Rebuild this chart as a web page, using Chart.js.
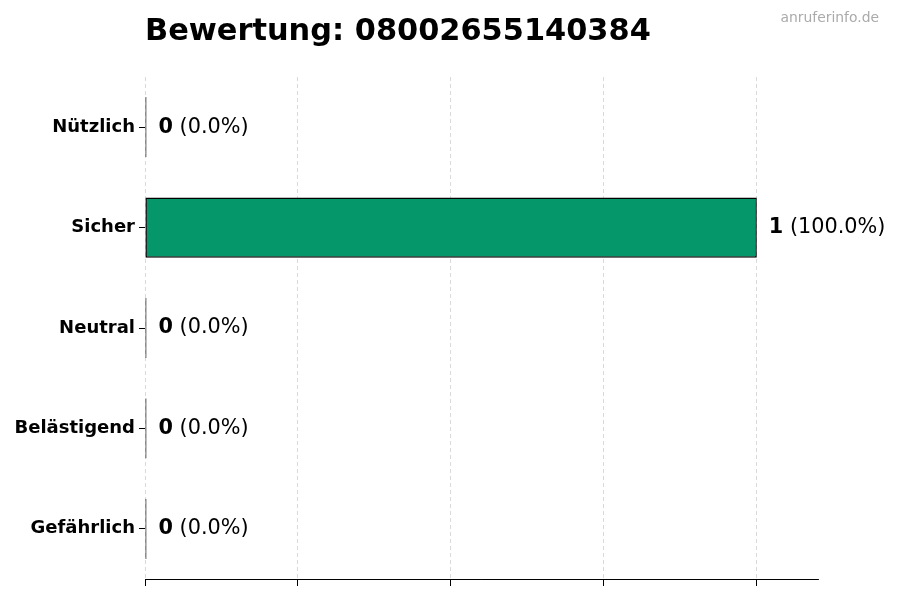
<!DOCTYPE html>
<html><head><meta charset="utf-8">
<script src="https://cdn.jsdelivr.net/npm/chart.js@4.4.0/dist/chart.umd.min.js"></script>
<style>html,body{margin:0;padding:0;background:#fff;}canvas{display:block;}</style>
</head><body>
<canvas id="c" width="900" height="600"></canvas>
<script>
const titleText = 'Bewertung: 08002655140384';
const watermark = 'anruferinfo.de';
const categories = ['Nützlich', 'Sicher', 'Neutral', 'Belästigend', 'Gefährlich'];
const counts = [0, 1, 0, 0, 0];
const barColor = '#05976a';
const total = counts.reduce((a, b) => a + b, 0);

const FONT = "'DejaVu Sans', sans-serif";

const overlay = {
  id: 'overlay',
  afterDraw(chart) {
    const ctx = chart.ctx;
    const area = chart.chartArea;
    ctx.save();
    ctx.fillStyle = '#000';
    ctx.font = 'bold 30.4px ' + FONT;
    ctx.textBaseline = 'alphabetic';
    ctx.textAlign = 'left';
    ctx.fillText(titleText, area.left, 40);
    ctx.fillStyle = '#aaaaaa';
    ctx.font = '13.9px ' + FONT;
    ctx.textAlign = 'right';
    ctx.fillText(watermark, 879, 22);
    const meta = chart.getDatasetMeta(0);
    meta.data.forEach((bar, i) => {
      const v = counts[i];
      const pct = total ? (v / total * 100) : 0;
      let x = bar.x + 12;
      const y = bar.y;
      ctx.textAlign = 'left';
      ctx.textBaseline = 'middle';
      ctx.fillStyle = '#000';
      ctx.font = 'bold 20.8px ' + FONT;
      const s1 = String(v);
      ctx.fillText(s1, x, y);
      x += ctx.measureText(s1).width;
      ctx.font = '20.8px ' + FONT;
      ctx.fillText(' (' + pct.toFixed(1) + '%)', x, y);
    });
    ctx.restore();
  }
};

new Chart(document.getElementById('c'), {
  type: 'bar',
  data: {
    labels: categories,
    datasets: [{
      data: counts,
      backgroundColor: barColor,
      borderColor: '#000',
      borderWidth: 1.5,
      borderSkipped: false,
      minBarLength: 1.5,
      barPercentage: 0.6,
      categoryPercentage: 1.0
    }]
  },
  options: {
    indexAxis: 'y',
    responsive: false,
    animation: false,
    devicePixelRatio: 1,
    layout: { padding: { left: 0, top: 77, right: 82, bottom: 0 } },
    plugins: { legend: { display: false }, tooltip: { enabled: false }, title: { display: false } },
    scales: {
      x: {
        min: 0, max: 1.1,
        ticks: { display: false, stepSize: 0.25, includeBounds: false },
        grid: { color: '#d0d0d0', lineWidth: 0.8, drawTicks: true, tickLength: 7, tickColor: '#000', tickWidth: 1, tickBorderDash: [] },
        border: { display: true, color: '#000', width: 1, dash: [4, 3] },
        afterFit(scale) { scale.height = 21; }
      },
      y: {
        ticks: { color: '#000', font: { family: FONT, size: 18, weight: 'bold' }, padding: 4 },
        grid: { offset: false, drawOnChartArea: false, drawTicks: true, tickLength: 6, tickColor: '#000', color: '#000' },
        border: { display: false },
        afterFit(scale) { scale.width = 145; }
      }
    }
  },
  plugins: [overlay]
});
</script>
</body></html>
